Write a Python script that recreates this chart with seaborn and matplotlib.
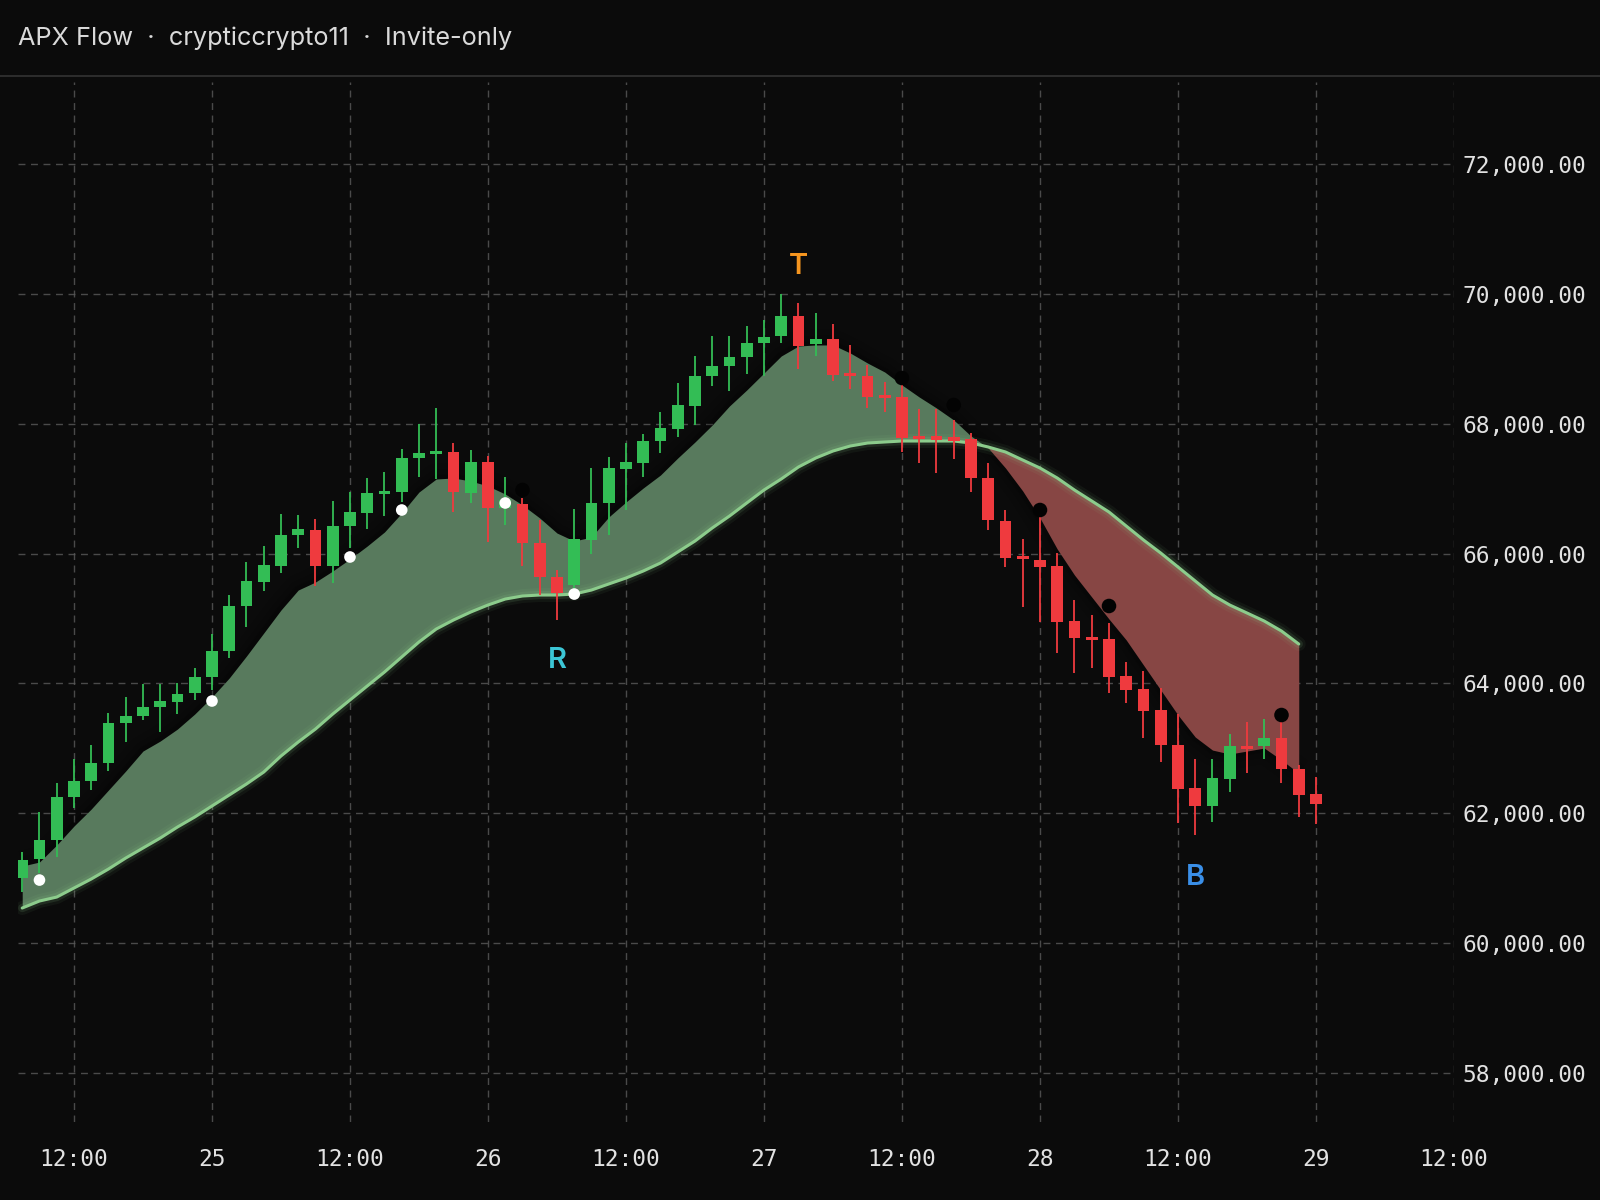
import numpy as np
import pandas as pd
import matplotlib
matplotlib.use('Agg')
import matplotlib.pyplot as plt
from matplotlib.ticker import FuncFormatter
import seaborn as sns

# candles (90 min bars)
opens = [61002, 61295, 61588, 62250, 62497, 62774, 63391, 63498, 63637, 63714,
         63853, 64099, 64500, 65194, 65563, 65810, 66288, 66365, 65810, 66426,
         66627, 66919, 66950, 67474, 67536, 67567, 66935, 67413, 66704, 66765,
         66164, 65640, 65517, 66211, 66781, 67305, 67397, 67736, 67921, 68276,
         68738, 68892, 69031, 69246, 69354, 69662, 69231, 69308, 68784, 68738,
         68430, 68414, 67813, 67813, 67798, 67767, 67166, 66503, 65964, 65902,
         65810, 64962, 64716, 64685, 64115, 63915, 63591, 63052, 62389, 62112,
         62528, 63036, 63036, 63159, 62682, 62296]
highs = [61403, 62019, 62466, 62836, 63052, 63545, 63791, 63992, 63992, 64007,
         64238, 64762, 65363, 65872, 66118, 66611, 66596, 66534, 66812, 66950,
         67166, 67258, 67613, 67998, 68245, 67705, 67597, 67505, 67181, 66858,
         66519, 65748, 66688, 67320, 67490, 67705, 67844, 68183, 68630, 69046,
         69354, 69354, 69508, 69601, 70001, 69863, 69709, 69539, 69216, 68907,
         68645, 68599, 68229, 68229, 68060, 67859, 67397, 66673, 66226, 66565,
         66010, 65286, 65055, 64932, 64331, 64192, 63930, 63529, 62836, 62836,
         63221, 63406, 63452, 63406, 62744, 62558]
lows = [60786, 61079, 61326, 62081, 62358, 62651, 63098, 63437, 63252, 63529,
        63745, 63899, 64392, 64870, 65425, 65702, 66087, 65502, 65548, 66087,
        66380, 66580, 66796, 67181, 67151, 66642, 66781, 66180, 66442, 65810,
        65363, 64978, 65363, 65995, 66288, 66673, 67181, 67551, 67798, 67983,
        68584, 68507, 68769, 68738, 69246, 68846, 69046, 68661, 68538, 68245,
        68183, 67567, 67397, 67243, 67459, 66950, 66365, 65795, 65178, 64947,
        64469, 64161, 64238, 63853, 63699, 63159, 62790, 61850, 61665, 61865,
        62327, 62620, 62836, 62466, 61942, 61834]
closes = [61279, 61588, 62250, 62497, 62774, 63391, 63498, 63637, 63730, 63837,
          64099, 64500, 65194, 65579, 65825, 66288, 66380, 65810, 66426, 66642,
          66935, 66966, 67474, 67551, 67582, 66950, 67413, 66704, 66827, 66164,
          65640, 65394, 66226, 66781, 67320, 67413, 67736, 67937, 68291, 68738,
          68892, 69031, 69246, 69339, 69662, 69200, 69308, 68753, 68738, 68414,
          68399, 67782, 67767, 67752, 67736, 67166, 66519, 65933, 65918, 65795,
          64947, 64700, 64670, 64099, 63899, 63575, 63052, 62374, 62112, 62543,
          63036, 62990, 63159, 62682, 62281, 62142]

# flow band (fast / slow)
fast = [61187, 61249, 61511, 61803, 62065, 62358, 62651, 62959, 63113, 63298,
        63529, 63791, 64084, 64423, 64777, 65132, 65440, 65563, 65733, 65918,
        66118, 66334, 66627, 66950, 67151, 67166, 67120, 67043, 66919, 66750,
        66550, 66318, 66195, 66257, 66565, 66796, 67012, 67212, 67474, 67721,
        67983, 68276, 68522, 68784, 69046, 69200, 69216, 69216, 69092, 68938,
        68799, 68599, 68414, 68245, 68060, 67813, 67628, 67320, 66966, 66550,
        66072, 65671, 65332, 64993, 64670, 64284, 63899, 63514, 63175, 62974,
        62913, 62959, 63005, 62820, 62620]
slow = [60540, 60648, 60709, 60848, 60987, 61141, 61310, 61464, 61618, 61788,
        61942, 62112, 62281, 62451, 62635, 62882, 63098, 63298, 63529, 63745,
        63961, 64176, 64408, 64639, 64839, 64978, 65101, 65209, 65301, 65348,
        65363, 65363, 65378, 65440, 65533, 65625, 65733, 65856, 66026, 66195,
        66396, 66580, 66781, 66981, 67151, 67336, 67474, 67582, 67659, 67705,
        67721, 67736, 67736, 67736, 67736, 67705, 67644, 67567, 67443, 67320,
        67166, 66981, 66812, 66642, 66426, 66211, 66010, 65795, 65579, 65363,
        65209, 65086, 64962, 64808, 64608]

# signal dots
white_idx = [1, 11, 19, 22, 28, 32]
white_px = [60971, 63730, 65949, 66673, 66781, 65378]
black_idx = [29, 51, 54, 59, 63, 73]
black_px = [66981, 68707, 68291, 66673, 65194, 63514]

# letter markers
mark_text = ['T', 'R', 'B']
mark_idx = [45, 31, 68]
mark_px = [70418, 64361, 61017]
mark_col = ['#f5951f', '#3cc6d6', '#3a8fe8']

tick_times = ['2024-03-24 12:00', '2024-03-25 00:00', '2024-03-25 12:00', '2024-03-26 00:00',
              '2024-03-26 12:00', '2024-03-27 00:00', '2024-03-27 12:00', '2024-03-28 00:00',
              '2024-03-28 12:00', '2024-03-29 00:00', '2024-03-29 12:00']
tick_labels = ['12:00', '25', '12:00', '26', '12:00', '27', '12:00', '28', '12:00', '29', '12:00']
price_ticks = [58000, 60000, 62000, 64000, 66000, 68000, 70000, 72000]

bg = '#0b0b0b'
up_col = '#33bd55'
dn_col = '#ef3a3e'

sns.set_theme(style='dark', rc={'figure.facecolor': bg, 'axes.facecolor': bg})
plt.rcParams['font.family'] = ['Inter', 'DejaVu Sans']

times = pd.date_range('2024-03-24 07:30', periods=len(opens), freq='90min')
df = pd.DataFrame({'time': times, 'open': opens, 'high': highs, 'low': lows, 'close': closes})
band = pd.DataFrame({'time': times[:len(fast)], 'fast': fast, 'slow': slow})

fig = plt.figure(figsize=(16, 12), dpi=100)
ax = fig.add_axes([18 / 1600, 1 - 1122 / 1200, 1436 / 1600, 1040 / 1200])
ax.set_facecolor(bg)

# soft shadow along the fast edge
for lw, a in [(22, 0.05), (13, 0.08), (6, 0.12)]:
    ax.plot(band['time'], band['fast'], color='black', lw=lw, alpha=a, zorder=1,
            solid_capstyle='butt')

up = np.array(fast) >= np.array(slow)
ax.fill_between(band['time'], band['fast'], band['slow'], where=up, interpolate=True,
                color='#587a5d', lw=0, zorder=2)
ax.fill_between(band['time'], band['fast'], band['slow'], where=~up, interpolate=True,
                color='#874644', lw=0, zorder=2)

# slow line with glow
for lw, a in [(10, 0.06), (6, 0.12)]:
    ax.plot(band['time'], band['slow'], color='#8fd08f', lw=lw, alpha=a, zorder=3)
sns.lineplot(data=band, x='time', y='slow', color='#8ccc8c', lw=2.2, ax=ax, zorder=3)

# candles
colors = [up_col if c >= o else dn_col for o, c in zip(df['open'], df['close'])]
ax.vlines(df['time'], df['low'], df['high'], colors=colors, lw=1.3, zorder=4)
body_lo = np.minimum(df['open'], df['close'])
body_h = np.maximum(np.abs(df['close'] - df['open']), 45)
ax.bar(df['time'], body_h, bottom=body_lo, width=pd.Timedelta('62min'),
       color=colors, lw=0, zorder=5)

# dots
wd = pd.DataFrame({'time': times[white_idx], 'price': white_px})
bd = pd.DataFrame({'time': times[black_idx], 'price': black_px})
sns.scatterplot(data=wd, x='time', y='price', color='white', s=70, edgecolor='none',
                ax=ax, zorder=6)
sns.scatterplot(data=bd, x='time', y='price', color='#030303', s=110, edgecolor='none',
                ax=ax, zorder=6)

for t, i, p, c in zip(mark_text, mark_idx, mark_px, mark_col):
    ax.text(times[i], p, t, color=c, fontsize=21, fontweight='semibold',
            ha='center', va='center', zorder=7)

# axes styling
ax.set_xlim(pd.Timestamp('2024-03-24 07:08'), pd.Timestamp(tick_times[-1]))
ax.set_ylim(57243, 73268)
ax.set_xticks(pd.to_datetime(tick_times))
ax.set_xticklabels(tick_labels)
ax.set_yticks(price_ticks)
ax.yaxis.set_major_formatter(FuncFormatter(lambda v, _: f'{v:,.2f}'))
ax.yaxis.tick_right()
ax.set_xlabel('')
ax.set_ylabel('')
for s in ax.spines.values():
    s.set_visible(False)
ax.grid(True, color='#5a5a5a', ls=(0, (5, 4)), lw=1.0, alpha=0.8)
ax.set_axisbelow(True)
ax.tick_params(axis='both', length=0, colors='#e2e2e2', labelsize=16.5)
ax.tick_params(axis='x', pad=19)
ax.tick_params(axis='y', pad=6)
for lab in ax.get_xticklabels() + ax.get_yticklabels():
    lab.set_family('DejaVu Sans Mono')

# header
fig.text(18 / 1600, 1 - 38 / 1200, 'APX Flow  \u00b7  crypticcrypto11  \u00b7  Invite-only',
         color='#dadada', fontsize=18.2, va='center', ha='left')
fig.add_artist(plt.Line2D([0, 1], [1 - 76 / 1200, 1 - 76 / 1200], color='#333333', lw=1.2,
                          transform=fig.transFigure))

fig.savefig('out.png', dpi=100, facecolor=bg)
